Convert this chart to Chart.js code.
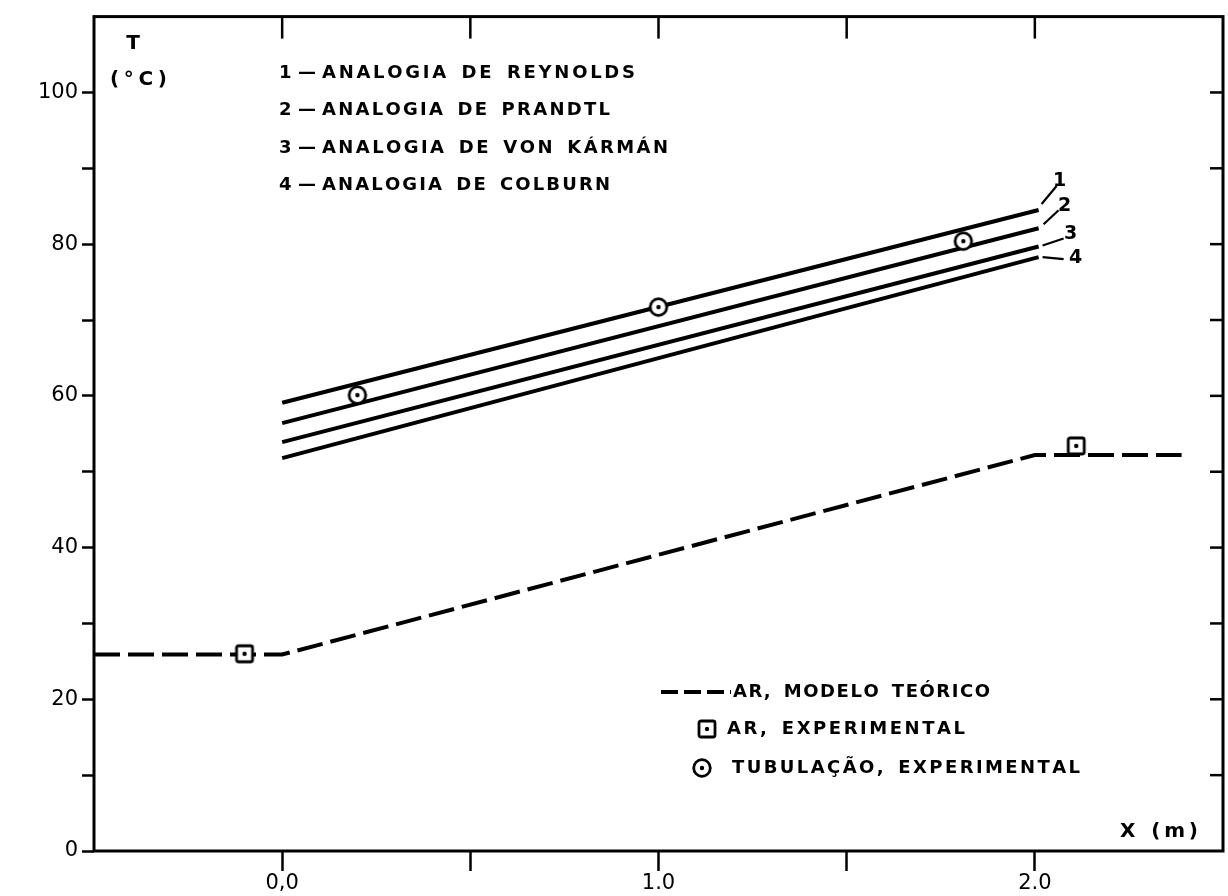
<!DOCTYPE html>
<html>
<head>
<meta charset="utf-8">
<script src="https://cdn.jsdelivr.net/npm/chart.js@4"></script>
<style>
body { margin: 0; background: #fff; }
#wrap { width: 1228px; height: 896px; }
</style>
</head>
<body>
<div id="wrap"><canvas id="tChart"></canvas></div>
<script>

// data
const xLine = [0.0, 2.01];
const tReynolds = [59.1, 84.5];
const tPrandtl = [56.4, 82.1];
const tKarman = [53.9, 79.7];
const tColburn = [51.8, 78.3];

const xArModel = [-0.5, 0.0, 2.0, 2.39];
const tArModel = [25.9, 25.9, 52.2, 52.2];

const xArExp = [-0.1, 2.11];
const tArExp = [26.0, 53.4];

const xTub = [0.2, 1.0, 1.81];
const tTub = [60.1, 71.7, 80.4];

const xTickValues = [0, 1, 2];
const xTickLabels = ["0,0", "1.0", "2.0"];
const yTickValues = [0, 20, 40, 60, 80, 100];

const lineNumbers = ["1", "2", "3", "4"];
const analogyNames = ["ANALOGIA DE REYNOLDS", "ANALOGIA DE PRANDTL", "ANALOGIA DE VON KÁRMÁN", "ANALOGIA DE COLBURN"];
const legendNames = ["AR, MODELO TEÓRICO", "AR, EXPERIMENTAL", "TUBULAÇÃO, EXPERIMENTAL"];

function pts(xs, ys){
    return xs.map((v, i) => ({x: v, y: ys[i]}));
}

function marker(shape){
    const c = document.createElement("canvas");
    c.width = 24; c.height = 24;
    const g = c.getContext("2d");
    g.lineWidth = 2.8;
    g.strokeStyle = "#000";
    g.fillStyle = "#fff";
    g.beginPath();
    if (shape === "circle") g.arc(12, 12, 8.3, 0, 2 * Math.PI);
    else g.roundRect(4, 4, 16, 16, 2);
    g.fill();
    g.stroke();
    g.fillStyle = "#000";
    g.beginPath();
    g.arc(12, 12, 2.2, 0, 2 * Math.PI);
    g.fill();
    return c;
}
const circleImg = marker("circle");
const squareImg = marker("square");

// draw text letter by letter so it fills a given width (wide lettering of the original)
function spaced(ctx, text, x, y, width, wordGap){
    const chars = Array.from(text);
    let w = 0, spaces = 0;
    chars.forEach(ch => { if (ch === " ") spaces++; else w += ctx.measureText(ch).width; });
    const s = (width - w - spaces * wordGap) / (chars.length - 1);
    let cx = x;
    chars.forEach(ch => {
        if (ch === " ") { cx += wordGap + s; return; }
        ctx.fillText(ch, cx, y);
        cx += ctx.measureText(ch).width + s;
    });
}

function seg(ctx, x1, y1, x2, y2){
    ctx.beginPath(); ctx.moveTo(x1, y1); ctx.lineTo(x2, y2); ctx.stroke();
}

const paper = {
    id: "paper",
    afterDraw(chart){
        const ctx = chart.ctx, a = chart.chartArea;
        const x = chart.scales.x, y = chart.scales.y;
        ctx.save();
        ctx.strokeStyle = "#000";
        ctx.fillStyle = "#000";
        ctx.lineWidth = 3;
        ctx.strokeRect(a.left, a.top, a.right - a.left, a.bottom - a.top);

        // inner ticks on top and right
        ctx.lineWidth = 2.5;
        [0, 0.5, 1, 1.5, 2].forEach(v => {
            const px = x.getPixelForValue(v);
            seg(ctx, px, a.top, px, a.top + 22);
        });
        for (let v = 10; v <= 100; v += 10){
            const py = y.getPixelForValue(v);
            seg(ctx, a.right - 13, py, a.right, py);
        }

        // leaders with numbers at line ends
        const ends = [tReynolds, tPrandtl, tKarman, tColburn];
        const lead = [
            [3, -6, 18, -24, 21, -29],
            [5, -4, 20, -18, 26, -22],
            [4, -1, 25, -8, 32, -12],
            [4, 0, 25, 2, 37, 1]
        ];
        ctx.lineWidth = 2.2;
        ctx.font = "bold 19px 'DejaVu Sans'";
        ctx.textAlign = "center";
        ctx.textBaseline = "middle";
        ends.forEach((s, i) => {
            const ex = x.getPixelForValue(xLine[1]);
            const ey = y.getPixelForValue(s[1]);
            const L = lead[i];
            seg(ctx, ex + L[0], ey + L[1], ex + L[2], ey + L[3]);
            ctx.fillText(lineNumbers[i], ex + L[4], ey + L[5]);
        });

        // axis titles
        ctx.font = "bold 20px 'DejaVu Sans'";
        ctx.fillText("T", 133, 44);
        ctx.textAlign = "left";
        spaced(ctx, "(°C)", 110, 80, 57, 0);
        spaced(ctx, "X (m)", 1120, 832, 78, 8);

        // analogy key
        ctx.font = "bold 18px 'DejaVu Sans'";
        const keyY = [73, 110, 148, 185];
        const keyRight = [635, 610, 668, 610];
        keyY.forEach((ky, i) => {
            ctx.fillText(lineNumbers[i], 279, ky);
            ctx.fillText("—", 298, ky);
            spaced(ctx, analogyNames[i], 322, ky, keyRight[i] - 322, 10);
        });

        // lower legend
        ctx.lineWidth = 4;
        ctx.setLineDash([17, 6]);
        seg(ctx, 661, 692, 731, 692);
        ctx.setLineDash([]);
        ctx.drawImage(squareImg, 707 - 12, 729 - 12);
        ctx.drawImage(circleImg, 702 - 12, 768 - 12);
        spaced(ctx, legendNames[0], 733, 692, 257, 10);
        spaced(ctx, legendNames[1], 727, 729, 238, 10);
        spaced(ctx, legendNames[2], 732, 768, 348, 10);
        ctx.restore();
    }
};

const solid = (data) => ({
    data: pts(xLine, data),
    showLine: true,
    borderColor: "#000",
    borderWidth: 4,
    pointRadius: 0,
    order: 2
});

new Chart(document.getElementById("tChart"), {
    type: "scatter",
    data: {
        datasets: [
            {
                data: pts(xTub, tTub),
                pointStyle: circleImg,
                order: 0
            },
            {
                data: pts(xArExp, tArExp),
                pointStyle: squareImg,
                order: 0
            },
            solid(tReynolds),
            solid(tPrandtl),
            solid(tKarman),
            solid(tColburn),
            {
                data: pts(xArModel, tArModel),
                showLine: true,
                borderColor: "#000",
                borderWidth: 4,
                borderDash: [26, 8],
                pointRadius: 0,
                order: 3
            }
        ]
    },
    options: {
        responsive: true,
        maintainAspectRatio: false,
        animation: false,
        layout: { padding: { top: 15, right: 0, left: 0, bottom: 0 } },
        plugins: { legend: { display: false }, tooltip: { enabled: false } },
        scales: {
            x: {
                type: "linear",
                min: -0.5,
                max: 2.5,
                afterFit: s => { s.height = 45; },
                border: { display: false },
                grid: {
                    drawOnChartArea: false,
                    tickLength: 20,
                    tickWidth: 2.5,
                    tickColor: c => (c.tick && (c.tick.value < -0.4 || c.tick.value > 2.4)) ? "rgba(0,0,0,0)" : "#000"
                },
                ticks: {
                    stepSize: 0.5,
                    padding: 0,
                    color: "#000",
                    font: { family: "DejaVu Sans", size: 21 },
                    callback: v => {
                        const i = xTickValues.findIndex(t => Math.abs(t - v) < 1e-6);
                        return i >= 0 ? xTickLabels[i] : "";
                    }
                }
            },
            y: {
                min: 0,
                max: 110,
                afterFit: s => { s.width = 94; },
                border: { display: false },
                grid: {
                    drawOnChartArea: false,
                    tickLength: 12,
                    tickWidth: 2.5,
                    tickColor: c => (c.tick && c.tick.value > 105) ? "rgba(0,0,0,0)" : "#000"
                },
                ticks: {
                    stepSize: 10,
                    padding: 4,
                    color: "#000",
                    font: { family: "DejaVu Sans", size: 21 },
                    callback: v => yTickValues.includes(v) ? String(v) : ""
                }
            }
        }
    },
    plugins: [paper]
});
</script>
</body>
</html>
